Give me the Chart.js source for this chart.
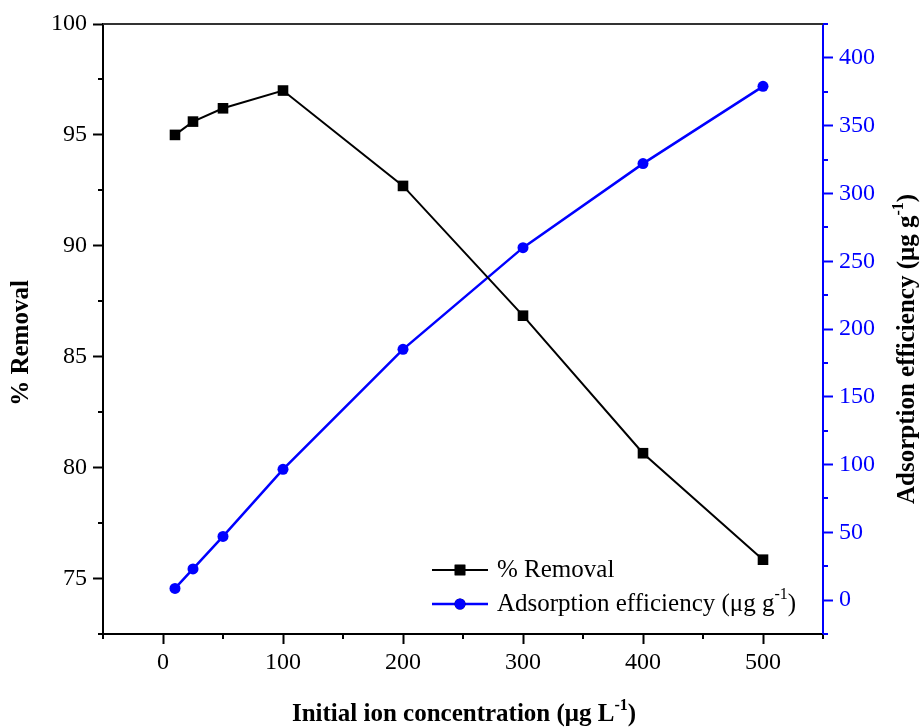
<!DOCTYPE html>
<html>
<head>
<meta charset="utf-8">
<script src="https://cdn.jsdelivr.net/npm/chart.js@4.4.0/dist/chart.umd.min.js"></script>
<style>
  html, body { margin: 0; padding: 0; background: #fff; }
  canvas { display: block; }
</style>
</head>
<body>
<canvas id="chart" width="923" height="727"></canvas>
<script>
// data
const concentration = [10, 25, 50, 100, 200, 300, 400, 500];
const removalPct = [95.0, 95.6, 96.2, 97.0, 92.7, 86.85, 80.65, 75.85];
const adsorption = [8.6, 23, 47, 96.5, 185, 260, 322, 379];

// tick values
const xMajorTicks = [0, 100, 200, 300, 400, 500];
const xMinorTicks = [-50, 50, 150, 250, 350, 450, 550];
const leftMajorTicks = [75, 80, 85, 90, 95, 100];
const leftMinorTicks = [72.5, 77.5, 82.5, 87.5, 92.5, 97.5];
const rightMajorTicks = [0, 50, 100, 150, 200, 250, 300, 350, 400];
const rightMinorTicks = [-25, 25, 75, 125, 175, 225, 275, 325, 375, 425];

const FONT = '"Liberation Serif", "Times New Roman", serif';
const BLUE = '#0000ff';

/* ================================
   Helpers
================================ */
// draws text where parts may be superscript, centred on (x, y)
function drawRich(ctx, parts, x, y, size, bold, color) {
  const weight = bold ? 'bold ' : '';
  const supSize = Math.round(size * 0.62);
  let total = 0;
  parts.forEach(p => {
    ctx.font = weight + (p.sup ? supSize : size) + 'px ' + FONT;
    p.w = ctx.measureText(p.t).width;
    total += p.w;
  });
  let cx = x - total / 2;
  ctx.fillStyle = color;
  ctx.textBaseline = 'middle';
  ctx.textAlign = 'left';
  parts.forEach(p => {
    ctx.font = weight + (p.sup ? supSize : size) + 'px ' + FONT;
    ctx.fillText(p.t, cx, p.sup ? y - size * 0.38 : y);
    cx += p.w;
  });
}

function drawRichLeft(ctx, parts, x, y, size, color) {
  const supSize = Math.round(size * 0.62);
  let cx = x;
  ctx.fillStyle = color;
  ctx.textBaseline = 'middle';
  ctx.textAlign = 'left';
  parts.forEach(p => {
    ctx.font = (p.sup ? supSize : size) + 'px ' + FONT;
    ctx.fillText(p.t, cx, p.sup ? y - size * 0.38 : y);
    cx += ctx.measureText(p.t).width;
  });
}

function fixedTicks(values) {
  return scale => { scale.ticks = values.map(v => ({ value: v })); };
}

/* ================================
   Extras plugin: frame, minor ticks, titles, legend
================================ */
const extrasPlugin = {
  id: 'extras',
  afterDraw(chart) {
    const ctx = chart.ctx;
    const area = chart.chartArea;
    const xs = chart.scales.x;
    const yl = chart.scales.yLeft;
    const yr = chart.scales.yRight;

    ctx.save();
    // top frame
    ctx.strokeStyle = '#333';
    ctx.lineWidth = 2;
    ctx.beginPath();
    ctx.moveTo(area.left, area.top);
    ctx.lineTo(area.right, area.top);
    ctx.stroke();

    // minor ticks
    ctx.strokeStyle = '#000';
    ctx.beginPath();
    xMinorTicks.forEach(v => {
      const px = Math.round(xs.getPixelForValue(v));
      ctx.moveTo(px, area.bottom);
      ctx.lineTo(px, area.bottom + 5);
    });
    leftMinorTicks.forEach(v => {
      const py = Math.round(yl.getPixelForValue(v));
      ctx.moveTo(area.left, py);
      ctx.lineTo(area.left - 5, py);
    });
    ctx.stroke();
    ctx.strokeStyle = BLUE;
    ctx.beginPath();
    rightMinorTicks.forEach(v => {
      const py = Math.round(yr.getPixelForValue(v));
      ctx.moveTo(area.right, py);
      ctx.lineTo(area.right + 5, py);
    });
    ctx.stroke();

    // axis titles
    drawRich(ctx, [
      { t: 'Initial ion concentration (\u03bcg L' },
      { t: '-1', sup: true },
      { t: ')' }
    ], 464, 715, 25, true, '#000');

    ctx.save();
    ctx.translate(22, 343);
    ctx.rotate(-Math.PI / 2);
    drawRich(ctx, [{ t: '% Removal' }], 0, 0, 25, true, '#000');
    ctx.restore();

    ctx.save();
    ctx.translate(908, 349);
    ctx.rotate(-Math.PI / 2);
    drawRich(ctx, [
      { t: 'Adsorption efficiency (\u03bcg g' },
      { t: '-1', sup: true },
      { t: ')' }
    ], 0, 0, 25, true, '#000');
    ctx.restore();

    // legend
    const rows = [
      { ds: chart.data.datasets[0], y: 570, parts: [{ t: '% Removal' }] },
      { ds: chart.data.datasets[1], y: 604, parts: [{ t: 'Adsorption efficiency (\u03bcg g' }, { t: '-1', sup: true }, { t: ')' }] }
    ];
    rows.forEach(r => {
      ctx.strokeStyle = r.ds.borderColor;
      ctx.lineWidth = r.ds.borderWidth;
      ctx.beginPath();
      ctx.moveTo(432, r.y);
      ctx.lineTo(488, r.y);
      ctx.stroke();
      Chart.helpers.drawPoint(ctx, {
        pointStyle: r.ds.pointStyle,
        radius: r.ds.pointRadius,
        borderWidth: 0
      }, 460, r.y);
      ctx.fillStyle = r.ds.pointBackgroundColor;
      ctx.fill();
      drawRichLeft(ctx, r.parts, 497, r.y, 25, '#000');
    });
    ctx.restore();
  }
};

/* ================================
   Chart
================================ */
function tickFont(size) {
  return { family: FONT, size: size };
}

window.onload = () => {
  const ctx = document.getElementById('chart').getContext('2d');

  new Chart(ctx, {
    type: 'line',
    data: {
      datasets: [{
        label: '% Removal',
        data: concentration.map((x, i) => ({ x: x, y: removalPct[i] })),
        yAxisID: 'yLeft',
        borderColor: '#000',
        backgroundColor: '#000',
        pointBackgroundColor: '#000',
        pointBorderWidth: 0,
        pointStyle: 'rect',
        pointRadius: 7.5,
        borderWidth: 2,
        tension: 0
      }, {
        label: 'Adsorption efficiency (\u03bcg g-1)',
        data: concentration.map((x, i) => ({ x: x, y: adsorption[i] })),
        yAxisID: 'yRight',
        borderColor: BLUE,
        backgroundColor: BLUE,
        pointBackgroundColor: BLUE,
        pointBorderWidth: 0,
        pointStyle: 'circle',
        pointRadius: 5.5,
        borderWidth: 2.5,
        tension: 0
      }]
    },
    options: {
      responsive: false,
      devicePixelRatio: 1,
      animation: false,
      layout: { padding: { top: 24, left: 0, right: 0, bottom: 0 } },
      plugins: { legend: { display: false }, tooltip: { enabled: false } },
      scales: {
        x: {
          type: 'linear',
          min: -50,
          max: 550,
          afterBuildTicks: fixedTicks(xMajorTicks),
          afterFit: s => { s.height = 93; },
          ticks: { color: '#000', font: tickFont(24), padding: 4, maxRotation: 0, autoSkip: false },
          grid: { drawOnChartArea: false, drawTicks: true, tickLength: 10, tickWidth: 2, tickColor: '#000' },
          border: { display: true, color: '#000', width: 2 }
        },
        yLeft: {
          type: 'linear',
          position: 'left',
          min: 72.5,
          max: 100,
          afterBuildTicks: fixedTicks(leftMajorTicks),
          afterFit: s => { s.width = 103; },
          ticks: { color: '#000', font: tickFont(24), padding: 6, autoSkip: false },
          grid: { drawOnChartArea: false, drawTicks: true, tickLength: 10, tickWidth: 2, tickColor: '#000' },
          border: { display: true, color: '#000', width: 2 }
        },
        yRight: {
          type: 'linear',
          position: 'right',
          min: -25,
          max: 425,
          afterBuildTicks: fixedTicks(rightMajorTicks),
          afterFit: s => { s.width = 100; },
          ticks: { color: BLUE, font: tickFont(24), padding: 6, autoSkip: false },
          grid: { drawOnChartArea: false, drawTicks: true, tickLength: 10, tickWidth: 2, tickColor: BLUE },
          border: { display: true, color: BLUE, width: 2 }
        }
      }
    },
    plugins: [extrasPlugin]
  });
};
</script>
</body>
</html>
